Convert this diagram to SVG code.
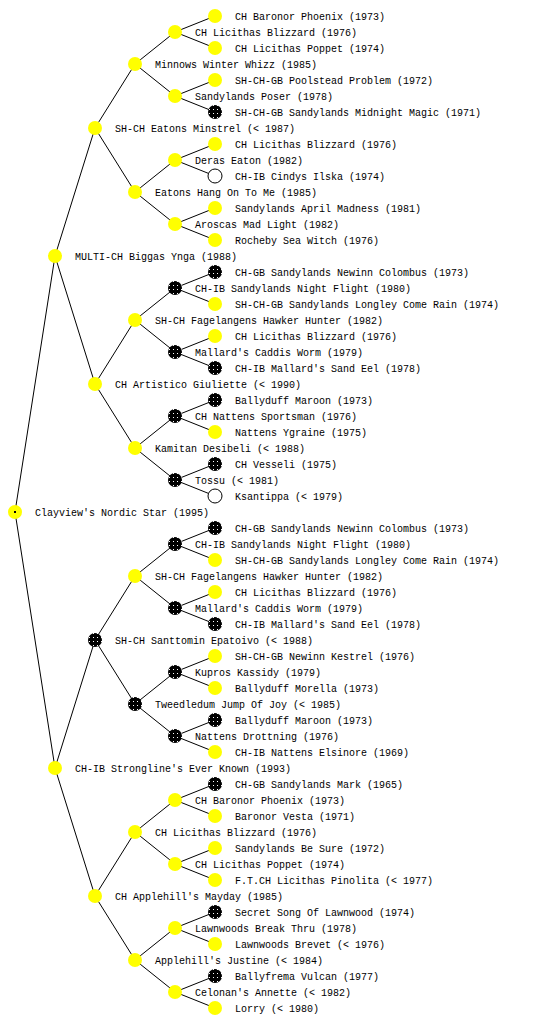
<svg xmlns="http://www.w3.org/2000/svg" width="560" height="1024" viewBox="0 0 560 1024">
<style>
text{font-family:"Liberation Mono","DejaVu Sans Mono",monospace;font-size:10px;fill:#000}
.c line{stroke:#000;stroke-width:1}
.y{fill:#ffff00}
.b{fill:url(#dots)}
.w{fill:#fff;stroke:#000;stroke-width:1}
</style>
<defs>
<pattern id="dots" width="4" height="4" patternUnits="userSpaceOnUse">
<rect width="4" height="4" fill="#000"/>
<rect x="1" y="1" width="1" height="1" fill="#fff"/>
</pattern>
</defs>
<rect width="560" height="1024" fill="#fff"/>
<g class="c" id="connectors">
<line x1="15" y1="512" x2="55" y2="256"/><line x1="15" y1="512" x2="55" y2="768"/>
<line x1="55" y1="256" x2="95" y2="128"/><line x1="55" y1="256" x2="95" y2="384"/>
<line x1="55" y1="768" x2="95" y2="640"/><line x1="55" y1="768" x2="95" y2="896"/>
<line x1="95" y1="128" x2="135" y2="64"/><line x1="95" y1="128" x2="135" y2="192"/>
<line x1="95" y1="384" x2="135" y2="320"/><line x1="95" y1="384" x2="135" y2="448"/>
<line x1="95" y1="640" x2="135" y2="576"/><line x1="95" y1="640" x2="135" y2="704"/>
<line x1="95" y1="896" x2="135" y2="832"/><line x1="95" y1="896" x2="135" y2="960"/>
<line x1="135" y1="64" x2="175" y2="32"/><line x1="135" y1="64" x2="175" y2="96"/>
<line x1="135" y1="192" x2="175" y2="160"/><line x1="135" y1="192" x2="175" y2="224"/>
<line x1="135" y1="320" x2="175" y2="288"/><line x1="135" y1="320" x2="175" y2="352"/>
<line x1="135" y1="448" x2="175" y2="416"/><line x1="135" y1="448" x2="175" y2="480"/>
<line x1="135" y1="576" x2="175" y2="544"/><line x1="135" y1="576" x2="175" y2="608"/>
<line x1="135" y1="704" x2="175" y2="672"/><line x1="135" y1="704" x2="175" y2="736"/>
<line x1="135" y1="832" x2="175" y2="800"/><line x1="135" y1="832" x2="175" y2="864"/>
<line x1="135" y1="960" x2="175" y2="928"/><line x1="135" y1="960" x2="175" y2="992"/>
<line x1="175" y1="32" x2="215" y2="16"/><line x1="175" y1="32" x2="215" y2="48"/>
<line x1="175" y1="96" x2="215" y2="80"/><line x1="175" y1="96" x2="215" y2="112"/>
<line x1="175" y1="160" x2="215" y2="144"/><line x1="175" y1="160" x2="215" y2="176"/>
<line x1="175" y1="224" x2="215" y2="208"/><line x1="175" y1="224" x2="215" y2="240"/>
<line x1="175" y1="288" x2="215" y2="272"/><line x1="175" y1="288" x2="215" y2="304"/>
<line x1="175" y1="352" x2="215" y2="336"/><line x1="175" y1="352" x2="215" y2="368"/>
<line x1="175" y1="416" x2="215" y2="400"/><line x1="175" y1="416" x2="215" y2="432"/>
<line x1="175" y1="480" x2="215" y2="464"/><line x1="175" y1="480" x2="215" y2="496"/>
<line x1="175" y1="544" x2="215" y2="528"/><line x1="175" y1="544" x2="215" y2="560"/>
<line x1="175" y1="608" x2="215" y2="592"/><line x1="175" y1="608" x2="215" y2="624"/>
<line x1="175" y1="672" x2="215" y2="656"/><line x1="175" y1="672" x2="215" y2="688"/>
<line x1="175" y1="736" x2="215" y2="720"/><line x1="175" y1="736" x2="215" y2="752"/>
<line x1="175" y1="800" x2="215" y2="784"/><line x1="175" y1="800" x2="215" y2="816"/>
<line x1="175" y1="864" x2="215" y2="848"/><line x1="175" y1="864" x2="215" y2="880"/>
<line x1="175" y1="928" x2="215" y2="912"/><line x1="175" y1="928" x2="215" y2="944"/>
<line x1="175" y1="992" x2="215" y2="976"/><line x1="175" y1="992" x2="215" y2="1008"/>
</g>
<g id="n0"><circle class="y" cx="15" cy="512" r="7"/><rect x="14" y="511" width="2" height="2" fill="#000"/><text x="35" y="516">Clayview's Nordic Star (1995)</text></g>
<g id="n1"><circle class="y" cx="55" cy="256" r="7"/><text x="75" y="260">MULTI-CH Biggas Ynga (1988)</text></g>
<g id="n2"><circle class="y" cx="55" cy="768" r="7"/><text x="75" y="772">CH-IB Strongline's Ever Known (1993)</text></g>
<g id="n3"><circle class="y" cx="95" cy="128" r="7"/><text x="115" y="132">SH-CH Eatons Minstrel (&lt; 1987)</text></g>
<g id="n4"><circle class="y" cx="95" cy="384" r="7"/><text x="115" y="388">CH Artistico Giuliette (&lt; 1990)</text></g>
<g id="n5"><circle class="b" cx="95" cy="640" r="7"/><text x="115" y="644">SH-CH Santtomin Epatoivo (&lt; 1988)</text></g>
<g id="n6"><circle class="y" cx="95" cy="896" r="7"/><text x="115" y="900">CH Applehill's Mayday (1985)</text></g>
<g id="n7"><circle class="y" cx="135" cy="64" r="7"/><text x="155" y="68">Minnows Winter Whizz (1985)</text></g>
<g id="n8"><circle class="y" cx="135" cy="192" r="7"/><text x="155" y="196">Eatons Hang On To Me (1985)</text></g>
<g id="n9"><circle class="y" cx="135" cy="320" r="7"/><text x="155" y="324">SH-CH Fagelangens Hawker Hunter (1982)</text></g>
<g id="n10"><circle class="y" cx="135" cy="448" r="7"/><text x="155" y="452">Kamitan Desibeli (&lt; 1988)</text></g>
<g id="n11"><circle class="y" cx="135" cy="576" r="7"/><text x="155" y="580">SH-CH Fagelangens Hawker Hunter (1982)</text></g>
<g id="n12"><circle class="b" cx="135" cy="704" r="7"/><text x="155" y="708">Tweedledum Jump Of Joy (&lt; 1985)</text></g>
<g id="n13"><circle class="y" cx="135" cy="832" r="7"/><text x="155" y="836">CH Licithas Blizzard (1976)</text></g>
<g id="n14"><circle class="y" cx="135" cy="960" r="7"/><text x="155" y="964">Applehill's Justine (&lt; 1984)</text></g>
<g id="n15"><circle class="y" cx="175" cy="32" r="7"/><text x="195" y="36">CH Licithas Blizzard (1976)</text></g>
<g id="n16"><circle class="y" cx="175" cy="96" r="7"/><text x="195" y="100">Sandylands Poser (1978)</text></g>
<g id="n17"><circle class="y" cx="175" cy="160" r="7"/><text x="195" y="164">Deras Eaton (1982)</text></g>
<g id="n18"><circle class="y" cx="175" cy="224" r="7"/><text x="195" y="228">Aroscas Mad Light (1982)</text></g>
<g id="n19"><circle class="b" cx="175" cy="288" r="7"/><text x="195" y="292">CH-IB Sandylands Night Flight (1980)</text></g>
<g id="n20"><circle class="b" cx="175" cy="352" r="7"/><text x="195" y="356">Mallard's Caddis Worm (1979)</text></g>
<g id="n21"><circle class="b" cx="175" cy="416" r="7"/><text x="195" y="420">CH Nattens Sportsman (1976)</text></g>
<g id="n22"><circle class="b" cx="175" cy="480" r="7"/><text x="195" y="484">Tossu (&lt; 1981)</text></g>
<g id="n23"><circle class="b" cx="175" cy="544" r="7"/><text x="195" y="548">CH-IB Sandylands Night Flight (1980)</text></g>
<g id="n24"><circle class="b" cx="175" cy="608" r="7"/><text x="195" y="612">Mallard's Caddis Worm (1979)</text></g>
<g id="n25"><circle class="b" cx="175" cy="672" r="7"/><text x="195" y="676">Kupros Kassidy (1979)</text></g>
<g id="n26"><circle class="b" cx="175" cy="736" r="7"/><text x="195" y="740">Nattens Drottning (1976)</text></g>
<g id="n27"><circle class="y" cx="175" cy="800" r="7"/><text x="195" y="804">CH Baronor Phoenix (1973)</text></g>
<g id="n28"><circle class="y" cx="175" cy="864" r="7"/><text x="195" y="868">CH Licithas Poppet (1974)</text></g>
<g id="n29"><circle class="y" cx="175" cy="928" r="7"/><text x="195" y="932">Lawnwoods Break Thru (1978)</text></g>
<g id="n30"><circle class="y" cx="175" cy="992" r="7"/><text x="195" y="996">Celonan's Annette (&lt; 1982)</text></g>
<g id="n31"><circle class="y" cx="215" cy="16" r="7"/><text x="235" y="20">CH Baronor Phoenix (1973)</text></g>
<g id="n32"><circle class="y" cx="215" cy="48" r="7"/><text x="235" y="52">CH Licithas Poppet (1974)</text></g>
<g id="n33"><circle class="y" cx="215" cy="80" r="7"/><text x="235" y="84">SH-CH-GB Poolstead Problem (1972)</text></g>
<g id="n34"><circle class="b" cx="215" cy="112" r="7"/><text x="235" y="116">SH-CH-GB Sandylands Midnight Magic (1971)</text></g>
<g id="n35"><circle class="y" cx="215" cy="144" r="7"/><text x="235" y="148">CH Licithas Blizzard (1976)</text></g>
<g id="n36"><circle class="w" cx="215" cy="176" r="7"/><text x="235" y="180">CH-IB Cindys Ilska (1974)</text></g>
<g id="n37"><circle class="y" cx="215" cy="208" r="7"/><text x="235" y="212">Sandylands April Madness (1981)</text></g>
<g id="n38"><circle class="y" cx="215" cy="240" r="7"/><text x="235" y="244">Rocheby Sea Witch (1976)</text></g>
<g id="n39"><circle class="b" cx="215" cy="272" r="7"/><text x="235" y="276">CH-GB Sandylands Newinn Colombus (1973)</text></g>
<g id="n40"><circle class="y" cx="215" cy="304" r="7"/><text x="235" y="308">SH-CH-GB Sandylands Longley Come Rain (1974)</text></g>
<g id="n41"><circle class="y" cx="215" cy="336" r="7"/><text x="235" y="340">CH Licithas Blizzard (1976)</text></g>
<g id="n42"><circle class="b" cx="215" cy="368" r="7"/><text x="235" y="372">CH-IB Mallard's Sand Eel (1978)</text></g>
<g id="n43"><circle class="b" cx="215" cy="400" r="7"/><text x="235" y="404">Ballyduff Maroon (1973)</text></g>
<g id="n44"><circle class="y" cx="215" cy="432" r="7"/><text x="235" y="436">Nattens Ygraine (1975)</text></g>
<g id="n45"><circle class="b" cx="215" cy="464" r="7"/><text x="235" y="468">CH Vesseli (1975)</text></g>
<g id="n46"><circle class="w" cx="215" cy="496" r="7"/><text x="235" y="500">Ksantippa (&lt; 1979)</text></g>
<g id="n47"><circle class="b" cx="215" cy="528" r="7"/><text x="235" y="532">CH-GB Sandylands Newinn Colombus (1973)</text></g>
<g id="n48"><circle class="y" cx="215" cy="560" r="7"/><text x="235" y="564">SH-CH-GB Sandylands Longley Come Rain (1974)</text></g>
<g id="n49"><circle class="y" cx="215" cy="592" r="7"/><text x="235" y="596">CH Licithas Blizzard (1976)</text></g>
<g id="n50"><circle class="b" cx="215" cy="624" r="7"/><text x="235" y="628">CH-IB Mallard's Sand Eel (1978)</text></g>
<g id="n51"><circle class="y" cx="215" cy="656" r="7"/><text x="235" y="660">SH-CH-GB Newinn Kestrel (1976)</text></g>
<g id="n52"><circle class="y" cx="215" cy="688" r="7"/><text x="235" y="692">Ballyduff Morella (1973)</text></g>
<g id="n53"><circle class="b" cx="215" cy="720" r="7"/><text x="235" y="724">Ballyduff Maroon (1973)</text></g>
<g id="n54"><circle class="y" cx="215" cy="752" r="7"/><text x="235" y="756">CH-IB Nattens Elsinore (1969)</text></g>
<g id="n55"><circle class="b" cx="215" cy="784" r="7"/><text x="235" y="788">CH-GB Sandylands Mark (1965)</text></g>
<g id="n56"><circle class="y" cx="215" cy="816" r="7"/><text x="235" y="820">Baronor Vesta (1971)</text></g>
<g id="n57"><circle class="y" cx="215" cy="848" r="7"/><text x="235" y="852">Sandylands Be Sure (1972)</text></g>
<g id="n58"><circle class="y" cx="215" cy="880" r="7"/><text x="235" y="884">F.T.CH Licithas Pinolita (&lt; 1977)</text></g>
<g id="n59"><circle class="b" cx="215" cy="912" r="7"/><text x="235" y="916">Secret Song Of Lawnwood (1974)</text></g>
<g id="n60"><circle class="y" cx="215" cy="944" r="7"/><text x="235" y="948">Lawnwoods Brevet (&lt; 1976)</text></g>
<g id="n61"><circle class="b" cx="215" cy="976" r="7"/><text x="235" y="980">Ballyfrema Vulcan (1977)</text></g>
<g id="n62"><circle class="y" cx="215" cy="1008" r="7"/><text x="235" y="1012">Lorry (&lt; 1980)</text></g>
</svg>
